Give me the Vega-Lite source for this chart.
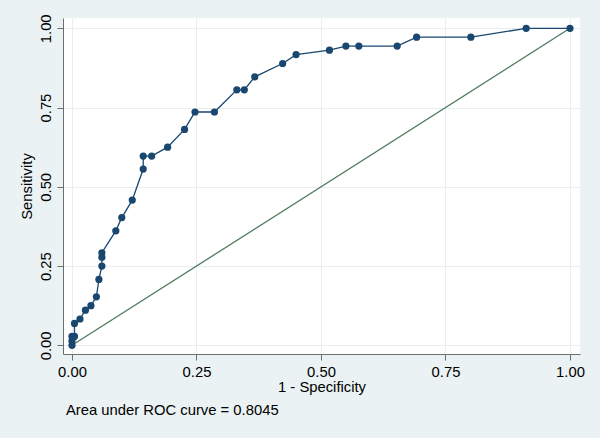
{
  "$schema": "https://vega.github.io/schema/vega-lite/v6.json",
  "autosize": "none",
  "width": 517,
  "height": 336,
  "padding": {"left": 63, "top": 18, "right": 20, "bottom": 84},
  "background": "#eaf2f3",
  "config": {
    "view": {"stroke": null, "fill": "white"},
    "font": "Liberation Sans",
    "axis": {
      "domainColor": "#6e6e6e",
      "tickColor": "#6e6e6e",
      "tickSize": 6,
      "gridColor": "#e6eef0",
      "gridWidth": 1,
      "labelFontSize": 14.8,
      "labelColor": "#000000",
      "titleFontSize": 14.8,
      "titleFontWeight": "normal",
      "titleColor": "#000000",
      "labelFont": "Liberation Sans",
      "titleFont": "Liberation Sans"
    }
  },
  "title": {
    "text": "Area under ROC curve = 0.8045",
    "orient": "bottom",
    "anchor": "start",
    "frame": "group",
    "font": "Liberation Sans",
    "fontSize": 14.8,
    "fontWeight": "normal",
    "color": "#000000",
    "offset": 8,
    "dx": 3
  },
  "datasets": {
    "roc": [
      {"i": 0, "fpr": 0.0, "sens": 0.0},
      {"i": 1, "fpr": 0.0, "sens": 0.014},
      {"i": 2, "fpr": 0.0, "sens": 0.028},
      {"i": 3, "fpr": 0.005, "sens": 0.028},
      {"i": 4, "fpr": 0.005, "sens": 0.069},
      {"i": 5, "fpr": 0.016, "sens": 0.083},
      {"i": 6, "fpr": 0.027, "sens": 0.111},
      {"i": 7, "fpr": 0.038, "sens": 0.125},
      {"i": 8, "fpr": 0.049, "sens": 0.153},
      {"i": 9, "fpr": 0.054, "sens": 0.208},
      {"i": 10, "fpr": 0.06, "sens": 0.25},
      {"i": 11, "fpr": 0.06, "sens": 0.278},
      {"i": 12, "fpr": 0.06, "sens": 0.292},
      {"i": 13, "fpr": 0.088, "sens": 0.361},
      {"i": 14, "fpr": 0.1, "sens": 0.403},
      {"i": 15, "fpr": 0.121, "sens": 0.458},
      {"i": 16, "fpr": 0.143, "sens": 0.556},
      {"i": 17, "fpr": 0.143, "sens": 0.597},
      {"i": 18, "fpr": 0.16, "sens": 0.597},
      {"i": 19, "fpr": 0.192, "sens": 0.625},
      {"i": 20, "fpr": 0.226, "sens": 0.681},
      {"i": 21, "fpr": 0.247, "sens": 0.736},
      {"i": 22, "fpr": 0.286, "sens": 0.736},
      {"i": 23, "fpr": 0.331, "sens": 0.806},
      {"i": 24, "fpr": 0.346, "sens": 0.806},
      {"i": 25, "fpr": 0.367, "sens": 0.847},
      {"i": 26, "fpr": 0.423, "sens": 0.889},
      {"i": 27, "fpr": 0.45, "sens": 0.917},
      {"i": 28, "fpr": 0.517, "sens": 0.931},
      {"i": 29, "fpr": 0.55, "sens": 0.944},
      {"i": 30, "fpr": 0.576, "sens": 0.944},
      {"i": 31, "fpr": 0.653, "sens": 0.944},
      {"i": 32, "fpr": 0.692, "sens": 0.972},
      {"i": 33, "fpr": 0.801, "sens": 0.972},
      {"i": 34, "fpr": 0.912, "sens": 1.0},
      {"i": 35, "fpr": 1.0, "sens": 1.0}
    ],
    "diag": [
      {"i": 0, "fpr": 0.0, "sens": 0.0},
      {"i": 1, "fpr": 1.0, "sens": 1.0}
    ]
  },
  "encoding": {
    "x": {
      "field": "fpr",
      "type": "quantitative",
      "scale": {"domain": [-0.01807, 1.0201], "nice": false, "zero": false},
      "axis": {
        "title": "1 - Specificity",
        "values": [0, 0.25, 0.5, 0.75, 1],
        "format": ".2f",
        "labelPadding": 4,
        "titlePadding": 1
      }
    },
    "y": {
      "field": "sens",
      "type": "quantitative",
      "scale": {"domain": [-0.0274, 1.0325], "nice": false, "zero": false},
      "axis": {
        "title": "Sensitivity",
        "values": [0, 0.25, 0.5, 0.75, 1],
        "format": ".2f",
        "labelAngle": -90,
        "labelAlign": "center",
        "labelBaseline": "bottom",
        "labelPadding": 4,
        "titlePadding": 4
      }
    },
    "order": {"field": "i", "type": "quantitative"}
  },
  "layer": [
    {
      "data": {"name": "diag"},
      "mark": {"type": "line", "color": "#4f7a5c", "strokeWidth": 1.3}
    },
    {
      "data": {"name": "roc"},
      "mark": {"type": "line", "color": "#1a476f", "strokeWidth": 1.3}
    },
    {
      "data": {"name": "roc"},
      "mark": {"type": "point", "filled": true, "opacity": 1, "color": "#1a476f", "size": 52}
    }
  ]
}
